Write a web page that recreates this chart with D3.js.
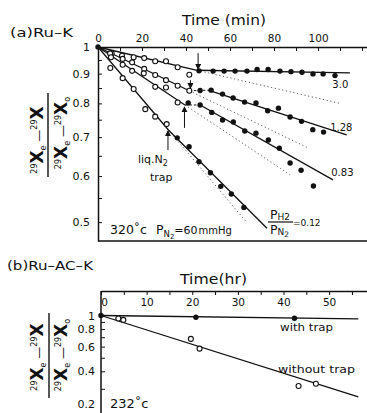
<!DOCTYPE html>
<html>
<head>
<meta charset="utf-8">
<script src="https://cdn.jsdelivr.net/npm/d3@7"></script>
<style>
  body { margin: 0; background: #fff; }
  text { font-family: "DejaVu Sans", sans-serif; fill: #111; }
</style>
</head>
<body>
<script>
// ---- panel (a) Ru-K, time in min ----
let minTicks = [0, 20, 40, 60, 80, 100];
let minMinorTicks = [0, 10, 20, 30, 40, 50, 60, 70, 80, 90, 100, 110, 120];
let yTicksA = [1, 0.9, 0.8, 0.7, 0.6, 0.5];
let yMinorA = [0.95, 0.85, 0.75, 0.65, 0.55];

// open = before liq. N2 trap, filled = after
let openA30 = [[6.2, 0.976], [10.9, 0.966], [16.2, 0.960], [21, 0.957], [26, 0.945], [30.9, 0.945], [36.2, 0.923]];
let filledA30 = [[45.9, 0.910], [52.3, 0.909], [57.3, 0.909], [62.3, 0.909], [67.7, 0.909], [72.3, 0.915], [77.3, 0.915],
  [82.7, 0.909], [87.7, 0.907], [92.7, 0.905], [97.7, 0.899], [102.3, 0.899], [107.7, 0.893]];
let openB128 = [[5.5, 0.975], [11.2, 0.954], [15.5, 0.941], [21, 0.917], [26, 0.895], [30.9, 0.877], [36.2, 0.858],
  [41.5, 0.841], [41.5, 0.896]];
let filledB128 = [[46.4, 0.842], [51.4, 0.843], [56.6, 0.830], [61.4, 0.817], [66.6, 0.804], [71.8, 0.801], [77.1, 0.777],
  [82, 0.785], [87.3, 0.758], [92.5, 0.745], [97.6, 0.721], [102.5, 0.714]];
let openC083 = [[5.9, 0.960], [11.2, 0.932], [15.5, 0.910], [20.8, 0.901], [26, 0.854], [30.9, 0.852], [36.2, 0.803]];
let filledC083 = [[41, 0.801], [46.4, 0.795], [51.7, 0.772], [56.6, 0.749], [61.5, 0.743], [66.7, 0.717], [71.8, 0.711],
  [77.4, 0.692], [82.4, 0.670], [87.3, 0.632], [92.3, 0.614], [97.9, 0.577]];
let openD012 = [[5.6, 0.920], [11.2, 0.884], [16.2, 0.847], [21.5, 0.782], [26, 0.759], [31.2, 0.737]];
let filledD012 = [[36, 0.698], [41.4, 0.674], [45.9, 0.635], [51.1, 0.608], [55.8, 0.576], [60.6, 0.559], [66.3, 0.530]];

// fitted lines
let solidA = [[[0, 1], [45, 0.912]], [[45, 0.912], [114.5, 0.903]], [[0, 1], [41.5, 0.841]], [[50, 0.843], [113, 0.706]],
  [[0, 1], [39.5, 0.795]], [[46.4, 0.795], [106.8, 0.591]], [[0, 1], [32, 0.72]], [[32, 0.72], [76.8, 0.488]]];
let dashedA = [[[41.5, 0.841], [50, 0.843]], [[39.5, 0.795], [46.4, 0.795]]];
let dottedA = [[[45, 0.912], [110, 0.80]], [[41.5, 0.841], [95, 0.672]], [[39.5, 0.795], [87.3, 0.603]], [[32, 0.72], [67.7, 0.499]]];
let arrowsA = [[45.5, 0.976, 0.917], [42, 0.877, 0.850], [39.3, 0.726, 0.788], [31.8, 0.665, 0.717]];
let ratioLabels = [["3.0", 106.5, 0.850], ["1.28", 105.5, 0.717], ["0.83", 106, 0.600]];

// ---- panel (b) Ru-AC-K, time in hr ----
let hrTicks = [0, 10, 20, 30, 40, 50];
let hrMinorTicks = [0, 5, 10, 15, 20, 25, 30, 35, 40, 45, 50, 55];
let yTicksB = [1, 0.8, 0.6, 0.4, 0.2];
let yMinorB = [0.9, 0.7, 0.5, 0.3];
let withTrap = [[0, 1], [20.8, 0.971], [42.4, 0.956]];
let withoutTrap = [[3.8, 0.953], [4.9, 0.930], [19.7, 0.681], [21.6, 0.580], [43.3, 0.314], [47.1, 0.326]];
let lineWith = [[0, 1], [56.4, 0.945]];
let lineWithout = [[0, 1], [56.4, 0.263]];

let svg = d3.select("body").append("svg").attr("width", 367).attr("height", 413);
svg.append("rect").attr("width", 367).attr("height", 413).attr("fill", "#fff");

let defs = svg.append("defs");
defs.append("marker").attr("id", "head")
  .attr("markerUnits", "userSpaceOnUse")
  .attr("markerWidth", 6).attr("markerHeight", 8)
  .attr("refX", 5).attr("refY", 3).attr("orient", "auto")
  .append("path").attr("d", "M0,0 L6,3 L0,6 Z").attr("fill", "#111");

let xA = d3.scaleLinear().domain([0, 122.7]).range([98, 368]);
let yA = d3.scaleLog().domain([1, 0.464]).range([47, 241]);
let xB = d3.scaleLinear().domain([0, 58.3]).range([101, 367]);
let yB = d3.scaleLog().domain([1, 0.2]).range([315.5, 413.5]);

function styleAxis(g) {
  g.selectAll("path, line").attr("stroke", "#111");
  g.select(".domain").attr("stroke-width", 1.5);
  g.selectAll("line").attr("stroke-width", 1);
  g.selectAll("text").style("font-family", "DejaVu Sans, sans-serif").attr("fill", "#111");
}

function drawSeries(g, x, y, solid, dashed, dotted, open, filled) {
  let line = d3.line().x(d => x(d[0])).y(d => y(d[1]));
  g.selectAll(null).data(dotted).enter().append("path")
    .attr("d", line).attr("fill", "none").attr("stroke", "#333")
    .attr("stroke-width", 0.8).attr("stroke-dasharray", "1.2,2.6");
  g.selectAll(null).data(dashed).enter().append("path")
    .attr("d", line).attr("fill", "none").attr("stroke", "#111")
    .attr("stroke-width", 1).attr("stroke-dasharray", "2.5,2");
  g.selectAll(null).data(solid).enter().append("path")
    .attr("d", line).attr("fill", "none").attr("stroke", "#111").attr("stroke-width", 1.3);
  g.selectAll(null).data(open).enter().append("circle")
    .attr("cx", d => x(d[0])).attr("cy", d => y(d[1])).attr("r", 2.5)
    .attr("fill", "#fff").attr("stroke", "#111").attr("stroke-width", 1.1);
  g.selectAll(null).data(filled).enter().append("circle")
    .attr("cx", d => x(d[0])).attr("cy", d => y(d[1])).attr("r", 2.7).attr("fill", "#111");
}

function addText(x, y, str, size, len) {
  let t = svg.append("text").attr("x", x).attr("y", y).text(str).style("font-size", size + "px");
  if (len) t.attr("textLength", len).attr("lengthAdjust", "spacingAndGlyphs");
  return t;
}

// y axis title: rotated fraction of isotope fractions
function yTitle(xNum, yNum, xDen, yDen, barX, barTop, barBot) {
  let parts = [
    [["29", 8, -6], ["X", 17, 6], ["e", 8, 3], [" \u2014", 12, -3], ["29", 8, -6], ["X", 17, 6]],
    [["29", 8, -6], ["X", 17, 6], ["e", 8, 3], [" \u2014", 12, -3], ["29", 8, -6], ["X", 17, 6], ["o", 8, 3]]
  ];
  [[xNum, yNum], [xDen, yDen]].forEach((pos, i) => {
    let t = svg.append("text")
      .attr("transform", "translate(" + pos[0] + "," + pos[1] + ") rotate(-90)")
      .attr("text-anchor", "middle");
    parts[i].forEach(p => {
      t.append("tspan").text(p[0]).attr("dy", p[2])
        .style("font-size", p[1] + "px")
        .style("font-weight", p[0] === "X" ? "bold" : "normal");
    });
  });
  svg.append("line").attr("x1", barX).attr("x2", barX).attr("y1", barTop).attr("y2", barBot)
    .attr("stroke", "#111").attr("stroke-width", 1.4);
}

// ===== panel (a) =====
let gA = svg.append("g");

let topA = gA.append("g").attr("transform", "translate(0,47)")
  .call(d3.axisTop(xA).tickValues(minMinorTicks).tickSizeInner(-4).tickSizeOuter(0).tickFormat(""));
styleAxis(topA);
let topALab = gA.append("g").attr("transform", "translate(0,47)")
  .call(d3.axisTop(xA).tickValues(minTicks).tickSize(0).tickPadding(5).tickFormat(d3.format("d")));
topALab.select(".domain").remove();
styleAxis(topALab);
topALab.selectAll("text").style("font-size", "10.5px");

let leftA = gA.append("g").attr("transform", "translate(98,0)")
  .call(d3.axisLeft(yA).tickValues(yTicksA).tickSizeInner(-4).tickSizeOuter(0).tickPadding(8)
    .tickFormat(d => d === 1 ? "1" : d3.format(".1f")(d)));
styleAxis(leftA);
leftA.selectAll("text").style("font-size", "11px");
let leftAMinor = gA.append("g").attr("transform", "translate(98,0)")
  .call(d3.axisLeft(yA).tickValues(yMinorA).tickSizeInner(-4).tickSizeOuter(0).tickFormat(""));
leftAMinor.select(".domain").remove();
styleAxis(leftAMinor);

gA.append("line").attr("x1", 98).attr("x2", 367).attr("y1", 241).attr("y2", 241)
  .attr("stroke", "#111").attr("stroke-width", 1.6);

drawSeries(gA, xA, yA, solidA, dashedA, dottedA,
  openA30.concat(openB128, openC083, openD012),
  filledA30.concat(filledB128, filledC083, filledD012, [[0, 1]]));

gA.selectAll(null).data(arrowsA).enter().append("line")
  .attr("x1", d => xA(d[0])).attr("x2", d => xA(d[0]))
  .attr("y1", d => yA(d[1])).attr("y2", d => yA(d[2]))
  .attr("stroke", "#111").attr("stroke-width", 1).attr("marker-end", "url(#head)");

gA.selectAll(null).data(ratioLabels).enter().append("text")
  .attr("x", d => xA(d[1])).attr("y", d => yA(d[2]))
  .text(d => d[0]).style("font-size", "10px");

addText(10, 37, "(a)Ru\u2013K", 13, 63);
addText(182, 25, "Time (min)", 14.5, 84);

let liq = svg.append("text").attr("x", 138).attr("y", 163).style("font-size", "11px");
liq.append("tspan").text("liq.N");
liq.append("tspan").text("2").attr("dy", 3).style("font-size", "8px");
addText(150, 181, "trap", 11);

let cond = svg.append("text").attr("x", 110).attr("y", 234).style("font-size", "12.5px");
cond.append("tspan").text("320\u02DAc");
cond.append("tspan").text("P").attr("dx", 9);
cond.append("tspan").text("N").attr("dy", 3).style("font-size", "8.5px");
cond.append("tspan").text("2").attr("dy", 2).style("font-size", "7px");
cond.append("tspan").text("=60").attr("dy", -5).style("font-size", "11px");
cond.append("tspan").text("mmHg").attr("dx", 1).style("font-size", "10px");

let pn = svg.append("text").attr("x", 270).attr("y", 219).style("font-size", "12.5px");
pn.append("tspan").text("P");
pn.append("tspan").text("H2").attr("dy", 1).style("font-size", "9px");
let pd = svg.append("text").attr("x", 270).attr("y", 234).style("font-size", "12.5px");
pd.append("tspan").text("P");
pd.append("tspan").text("N").attr("dy", 1).style("font-size", "9px");
pd.append("tspan").text("2").attr("dy", 2).style("font-size", "7.5px");
svg.append("line").attr("x1", 268).attr("x2", 293).attr("y1", 222).attr("y2", 222)
  .attr("stroke", "#111").attr("stroke-width", 1.2);
addText(293, 226, "=0.12", 9);

yTitle(43, 140, 67, 133, 48, 93, 177);

// ===== panel (b) =====
let gB = svg.append("g");

let topB = gB.append("g").attr("transform", "translate(0,291)")
  .call(d3.axisTop(xB).tickValues(hrMinorTicks).tickSizeInner(-4).tickSizeOuter(0).tickFormat(""));
styleAxis(topB);
let topBLab = gB.append("g").attr("transform", "translate(0,291)")
  .call(d3.axisTop(xB).tickValues(hrTicks).tickSize(0).tickPadding(-15).tickFormat(d3.format("d")));
topBLab.select(".domain").remove();
styleAxis(topBLab);
topBLab.selectAll("text").style("font-size", "10.5px").attr("dx", d => d === 0 ? 3 : 0);

let leftB = gB.append("g").attr("transform", "translate(101,0)")
  .call(d3.axisLeft(yB).tickValues(yTicksB).tickSizeInner(-4).tickSizeOuter(0).tickPadding(6)
    .tickFormat(d => d === 1 ? "1" : d3.format(".1f")(d)));
leftB.select(".domain").remove();
styleAxis(leftB);
leftB.selectAll("text").style("font-size", "11px")
  .attr("dy", d => d === 0.2 ? "-0.55em" : "0.32em");
let leftBMinor = gB.append("g").attr("transform", "translate(101,0)")
  .call(d3.axisLeft(yB).tickValues(yMinorB).tickSizeInner(-4).tickSizeOuter(0).tickFormat(""));
leftBMinor.select(".domain").remove();
styleAxis(leftBMinor);
gB.append("line").attr("x1", 101).attr("x2", 101).attr("y1", 291).attr("y2", 413)
  .attr("stroke", "#111").attr("stroke-width", 1.5);

drawSeries(gB, xB, yB, [lineWith, lineWithout], [], [], withoutTrap, withTrap);

addText(7, 270, "(b)Ru\u2013AC\u2013K", 13, 86);
addText(180, 284, "Time(hr)", 14.5, 67);
addText(280, 331, "with  trap", 11, 53);
addText(278, 373, "without  trap", 11, 77);
addText(110, 408, "232\u02DAc", 13);

yTitle(43, 357, 67, 355, 49, 313, 398);
</script>
</body>
</html>
